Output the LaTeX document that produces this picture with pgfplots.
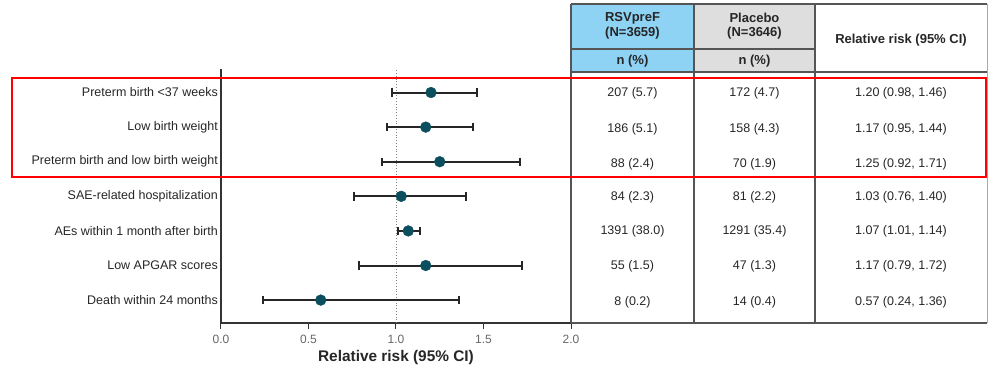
\documentclass[border=0pt]{standalone}
\usepackage{pgfplots}
\pgfplotsset{compat=1.18}
\usepackage{pgfplotstable}
\usepackage{fontspec}
\setmainfont{Liberation Sans}
\definecolor{mteal}{HTML}{0B4F5E}
\definecolor{hblue}{HTML}{8ED3F4}
\definecolor{hgray}{HTML}{DEDEDE}
\definecolor{gridc}{HTML}{555555}
\definecolor{txt}{HTML}{262626}

\pgfplotstableread{
y rr lo hi
7 1.20 0.98 1.46
6 1.17 0.95 1.44
5 1.25 0.92 1.71
4 1.03 0.76 1.40
3 1.07 1.01 1.14
2 1.17 0.79 1.72
1 0.57 0.24 1.36
}\rrdata

\newcommand{\tf}{\fontsize{12.5}{15}\selectfont}
\newcommand{\hf}{\fontsize{13}{15.5}\selectfont\bfseries}

\begin{document}
\begin{tikzpicture}
\path[use as bounding box] (-221pt,-49pt) rectangle (767pt,323pt);
\begin{axis}[
  scale only axis, width=350pt, height=254pt,
  xmin=0, xmax=2, ymin=0.338, ymax=7.68,
  axis x line=bottom, axis y line=left,
  axis line style={-, line width=1.3pt, color=black!80},
  xtick={0,0.5,1,1.5,2},
  xticklabels={0.0,0.5,1.0,1.5,2.0},
  xticklabel style={font=\fontsize{12}{14}\selectfont, color=black!60, yshift=-3pt},
  /pgf/number format/assume math mode=true,
  tick align=outside, major tick length=6pt,
  xtick style={line width=1pt, color=black!80},
  ytick={1,2,3,4,5,6,7},
  yticklabels={Death within 24 months, Low APGAR scores, AEs within 1 month after birth, SAE-related hospitalization, Preterm birth and low birth weight, Low birth weight, Preterm birth <37 weeks},
  ytick style={draw=none},
  yticklabel style={font=\tf, color=txt, inner sep=0pt, xshift=3pt},
  xlabel={Relative risk (95\% CI)},
  xlabel style={font=\fontsize{15.4}{18}\selectfont\bfseries, color=txt, at={(axis description cs:0.5,0)}, anchor=center, yshift=-35pt},
  clip=false,
]
\addplot[gray, dotted, line width=0.8pt, forget plot] coordinates {(1,0.338) (1,7.68)};
\addplot[only marks, mark=*, mark size=5.4pt, mark options={fill=mteal, draw=mteal},
  error bars/.cd, x dir=both, x explicit,
  error bar style={line width=2pt, color=black!85},
  error mark options={rotate=90, mark size=4.2pt, line width=2pt, color=black!85}]
  table[x=rr, y=y, x error plus expr=\thisrow{hi}-\thisrow{rr}, x error minus expr=\thisrow{rr}-\thisrow{lo}] {\rrdata};
\end{axis}
\begin{scope}[x=1pt, y=-1pt, shift={(-221pt,323pt)}]
  \fill[hblue] (571,4) rectangle (694,72);
  \fill[hgray] (694,4) rectangle (815,72);
  \draw[gridc, line width=1.2pt] (571,4) -- (987,4);
  \draw[gridc, line width=1.2pt] (571,49) -- (815,49);
  \draw[gridc, line width=1.2pt] (571,72) -- (987,72);
  \draw[gridc, line width=1.2pt] (571,323) -- (987,323);
  \draw[gridc, line width=1.2pt] (571,4) -- (571,323);
  \draw[gridc, line width=1.2pt] (694,4) -- (694,323);
  \draw[gridc, line width=1.2pt] (815,4) -- (815,323);
  \draw[gridc!50, line width=0.8pt] (987,4) -- (987,323);
  \node[font=\hf, color=txt] at (632.5,18) {RSVpreF};
  \node[font=\hf, color=txt] at (632.5,33) {(N=3659)};
  \node[font=\hf, color=txt] at (632.5,61) {n (\%)};
  \node[font=\hf, color=txt] at (754.5,18) {Placebo};
  \node[font=\hf, color=txt] at (754.5,33) {(N=3646)};
  \node[font=\hf, color=txt] at (754.5,61) {n (\%)};
  \node[font=\hf, color=txt] at (901,40) {Relative risk (95\% CI)};
  \foreach \yy/\a/\b/\c in {93.5/207 (5.7)/172 (4.7)/{1.20 (0.98, 1.46)},
                           129/186 (5.1)/158 (4.3)/{1.17 (0.95, 1.44)},
                           164/88 (2.4)/70 (1.9)/{1.25 (0.92, 1.71)},
                           197/84 (2.3)/81 (2.2)/{1.03 (0.76, 1.40)},
                           231.5/1391 (38.0)/1291 (35.4)/{1.07 (1.01, 1.14)},
                           266/55 (1.5)/47 (1.3)/{1.17 (0.79, 1.72)},
                           302/8 (0.2)/14 (0.4)/{0.57 (0.24, 1.36)}}{
    \node[font=\tf, color=txt] at (632.5,\yy) {\a};
    \node[font=\tf, color=txt] at (754.5,\yy) {\b};
    \node[font=\tf, color=txt] at (901,\yy) {\c};
  }
  \draw[red, line width=2pt] (12,78) rectangle (986,177);
\end{scope}
\end{tikzpicture}
\end{document}
